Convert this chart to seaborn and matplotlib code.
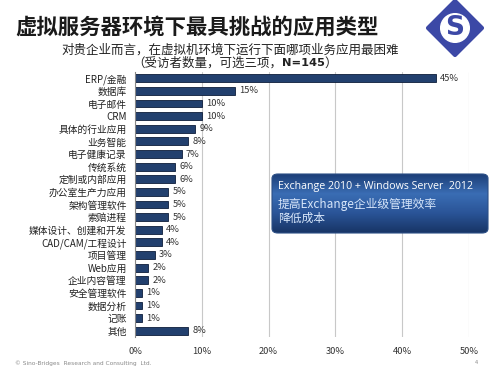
import numpy as np
import pandas as pd
import seaborn as sns
import matplotlib.pyplot as plt
from matplotlib.patches import FancyBboxPatch, Polygon
from matplotlib.colors import LinearSegmentedColormap

# --- data ---
categories = ["ERP/金融", "数据库", "电子邮件", "CRM", "具体的行业应用", "业务智能",
              "电子健康记录", "传统系统", "定制或内部应用", "办公室生产力应用",
              "架构管理软件", "索赔进程", "媒体设计、创建和开发", "CAD/CAM/工程设计",
              "项目管理", "Web应用", "企业内容管理", "安全管理软件", "数据分析",
              "记账", "其他"]
values = [45, 15, 10, 10, 9, 8, 7, 6, 6, 5, 5, 5, 4, 4, 3, 2, 2, 1, 1, 1, 8]
x_ticks = [0, 10, 20, 30, 40, 50]
x_ticklabels = [f"{t}%" for t in x_ticks]

TITLE = "虚拟服务器环境下最具挑战的应用类型"
SUB1 = "对贵企业而言，在虚拟机环境下运行下面哪项业务应用最困难"
SUB2 = ["（受访者数量，可选三项，", "N=145", "）"]
BOX_LINES = ["Exchange 2010 + Windows Server  2012", "提高Exchange企业级管理效率", "降低成本"]

df = pd.DataFrame({"app": categories, "pct": values})

sns.set_style("white")
plt.rcParams['font.family'] = ['Noto Sans CJK SC', 'DejaVu Sans']

fig = plt.figure(figsize=(4.95, 3.71), dpi=100)
ax = fig.add_axes([135 / 495, 1 - 337 / 371, 334 / 495, 265 / 371])

sns.barplot(data=df, x="pct", y="app", orient="h", color="#22406e",
            width=0.62, edgecolor="#0d1d3a", linewidth=0.6, saturation=1, ax=ax)

for i, v in enumerate(values):
    ax.text(v + 0.6, i, f"{v}%", va="center", ha="left", fontsize=6.7, color="#333333")

ax.set_xlim(0, 50)
ax.set_ylim(len(categories) - 0.5, -0.5)
ax.set_xticks(x_ticks)
ax.set_xticklabels(x_ticklabels, fontsize=6.7, color="#333333")
ax.tick_params(axis="x", length=0, pad=7)
ax.tick_params(axis="y", length=0, pad=6, labelsize=7, labelcolor="#222222")
ax.set_yticks(np.arange(-0.5, len(categories), 1), minor=True)
ax.tick_params(axis="y", which="minor", length=3, color="#888888", direction="out")
ax.set_xlabel("")
ax.set_ylabel("")
ax.grid(axis="x", color="#c8c8c8", linewidth=0.8)
ax.set_axisbelow(True)
for s in ["top", "right", "bottom"]:
    ax.spines[s].set_visible(False)
ax.spines["left"].set_color("#888888")
ax.spines["left"].set_linewidth(0.8)

# title and subtitle
fig.text(15 / 495, 1 - 27 / 371, TITLE, fontsize=15.4, fontweight="bold",
         color="#1a1a1a", va="center", ha="left")
fig.text(230 / 495, 1 - 50 / 371, SUB1, fontsize=9, color="#222222", va="center", ha="center")

# second subtitle line: three pieces laid next to each other
renderer = fig.canvas.get_renderer()
x = 132 / 495
for part in SUB2:
    bold = part.startswith("N=")
    t = fig.text(x, 1 - 63 / 371, part, fontsize=8.2 if bold else 9,
                 fontweight="bold" if bold else "normal", color="#222222",
                 va="center", ha="left",
                 family=["DejaVu Sans"] if bold else ["Noto Sans CJK SC", "DejaVu Sans"])
    bb = t.get_window_extent(renderer)
    x = bb.x1 / fig.bbox.width

# logo
cx, cy, r = 455 / 495, 1 - 28 / 371, 27
diamond = Polygon([(cx - r / 495, cy), (cx, cy + r / 371), (cx + r / 495, cy), (cx, cy - r / 371)],
                  closed=True, transform=fig.transFigure, facecolor="#3c48a6",
                  edgecolor="#3c48a6", joinstyle="round", linewidth=3)
fig.patches.append(diamond)
fig.text(cx, cy, "S", fontsize=19, fontweight="bold", color="#3c48a6", ha="center", va="center",
         family=["DejaVu Sans"],
         bbox=dict(boxstyle="circle,pad=0.05", facecolor="white", edgecolor="white"))

# callout box with blue gradient
bx0, by0, bx1, by1 = 272 / 495, 1 - 233 / 371, 488 / 495, 1 - 174 / 371
box = FancyBboxPatch((bx0, by0), bx1 - bx0, by1 - by0,
                     boxstyle="round,pad=0,rounding_size=0.012",
                     transform=fig.transFigure, facecolor="none", edgecolor="#2c4f86", linewidth=0.8)
fig.patches.append(box)
grad = np.linspace(0, 1, 64).reshape(-1, 1)
gax = fig.add_axes([bx0, by0, bx1 - bx0, by1 - by0])
gax.axis("off")
cmap = LinearSegmentedColormap.from_list("bx", ["#1d3f78", "#3a6db4", "#2a5497", "#183566"])
img = gax.imshow(grad, aspect="auto", cmap=cmap, extent=[0, 1, 0, 1])
clip = FancyBboxPatch((bx0, by0), bx1 - bx0, by1 - by0,
                      boxstyle="round,pad=0,rounding_size=0.012", transform=fig.transFigure)
img.set_clip_path(clip)
fig.text(278 / 495, 1 - 187 / 371, BOX_LINES[0], fontsize=7.7, color="white",
         va="center", ha="left", family=["Open Sans", "DejaVu Sans"])
fig.text(278 / 495, 1 - 204 / 371, BOX_LINES[1], fontsize=8.5, color="#d7e6fa",
         va="center", ha="left", family=["Noto Sans CJK SC", "DejaVu Sans"])
fig.text(278 / 495, 1 - 218 / 371, BOX_LINES[2], fontsize=8.5, color="#d7e6fa",
         va="center", ha="left")

# footer
fig.text(15 / 495, 1 - 363 / 371, "© Sino-Bridges  Research and Consulting  Ltd.",
         fontsize=4.2, color="#8a8a8a", va="center", ha="left", family=["DejaVu Sans"])
fig.text(476 / 495, 1 - 362 / 371, "4", fontsize=4, color="#8a8a8a", va="center", ha="center")

plt.savefig("out.png", dpi=100)
